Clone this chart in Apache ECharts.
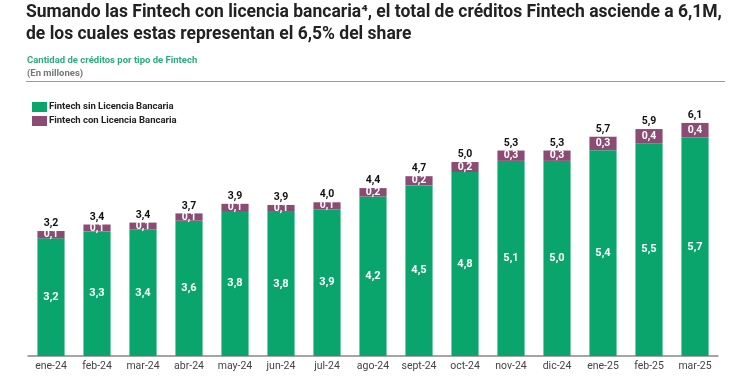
<!DOCTYPE html>
<html><head><meta charset="utf-8">
<script src="https://cdn.jsdelivr.net/npm/echarts@6/dist/echarts.min.js"></script>
<style>html,body{margin:0;padding:0;background:#fff}#c{width:730px;height:378px}</style>
</head><body><div id="c"></div>
<script>
var categories = ['ene-24','feb-24','mar-24','abr-24','may-24','jun-24','jul-24','ago-24','sept-24','oct-24','nov-24','dic-24','ene-25','feb-25','mar-25'];
var sinLicencia = [3.07,3.25,3.30,3.53,3.78,3.76,3.83,4.16,4.45,4.80,5.09,5.09,5.37,5.55,5.70];
var conLicencia = [0.19,0.18,0.18,0.19,0.19,0.18,0.18,0.22,0.24,0.26,0.27,0.27,0.35,0.37,0.38];
var sinLabels = ['3,2','3,3','3,4','3,6','3,8','3,8','3,9','4,2','4,5','4,8','5,1','5,0','5,4','5,5','5,7'];
var conLabels = ['0,1','0,1','0,1','0,1','0,1','0,1','0,1','0,2','0,2','0,2','0,3','0,3','0,3','0,4','0,4'];
var totalLabels = ['3,2','3,4','3,4','3,7','3,9','3,9','4,0','4,4','4,7','5,0','5,3','5,3','5,7','5,9','6,1'];
var seriesNames = ['Fintech sin Licencia Bancaria','Fintech con Licencia Bancaria'];

var GREEN = '#0aa56c', PURPLE = '#8b4b73';
var chart = echarts.init(document.getElementById('c'));
chart.setOption({
  animation: false,
  title: [
    {text: 'Sumando las Fintech con licencia bancaria\u2074, el total de créditos Fintech asciende a 6,1M,\nde los cuales estas representan el 6,5% del share',
     left: 26, top: 2, padding: [0,0,0,0], textStyle: {fontFamily: 'Roboto', fontWeight: 'bold', fontSize: 17.5, color: '#222', lineHeight: 22}},
    {text: 'Cantidad de créditos por tipo de Fintech', left: 27, top: 56, padding: 0,
     textStyle: {fontFamily: 'Roboto', fontWeight: 'bold', fontSize: 9.5, color: '#2dab7c'}},
    {text: '(En millones)', left: 27, top: 69, padding: 0,
     textStyle: {fontFamily: 'Roboto', fontWeight: 'bold', fontSize: 9.5, color: '#777'}}
  ],
  graphic: {elements: [{type: 'rect', left: 26, top: 81, z: 100, shape: {width: 699, height: 1}, style: {fill: '#9a9a9a'}}]},
  legend: {
    orient: 'vertical', left: 32, top: 102, itemWidth: 15, itemHeight: 10, itemGap: 4, padding: 0,
    icon: 'rect', data: seriesNames,
    textStyle: {fontFamily: 'Roboto', fontWeight: 'bold', fontSize: 9.5, color: '#222', padding: [0,0,0,-3]}
  },
  grid: {left: 28, right: 12, top: 80, bottom: 22},
  xAxis: {
    type: 'category', data: categories,
    axisTick: {show: false},
    axisLine: {lineStyle: {color: '#888', width: 1.5}},
    axisLabel: {fontFamily: 'Roboto', fontSize: 10.5, color: '#444', margin: 5}
  },
  yAxis: {type: 'value', min: 0, max: 7.2, show: false, splitLine: {show: false}},
  series: [
    {name: seriesNames[0], type: 'bar', stack: 't', data: sinLicencia, barCategoryGap: '41%',
     itemStyle: {color: GREEN},
     label: {show: true, position: 'inside', color: '#fff', fontFamily: 'Roboto', fontWeight: 'bold', fontSize: 11,
       formatter: function(p){ return sinLabels[p.dataIndex]; }}},
    {name: seriesNames[1], type: 'bar', stack: 't', data: conLicencia,
     itemStyle: {color: PURPLE},
     label: {show: true, position: 'inside', color: '#fff', fontFamily: 'Roboto', fontWeight: 'bold', fontSize: 10.5,
       formatter: function(p){ return conLabels[p.dataIndex]; }}},
    {name: 'total', type: 'bar', stack: 't', data: categories.map(function(){return 0;}),
     itemStyle: {color: 'transparent'}, silent: true,
     label: {show: true, position: 'top', distance: 2, color: '#111', fontFamily: 'Roboto', fontWeight: 'bold', fontSize: 10.5,
       formatter: function(p){ return totalLabels[p.dataIndex]; }}}
  ]
});
</script></body></html>
